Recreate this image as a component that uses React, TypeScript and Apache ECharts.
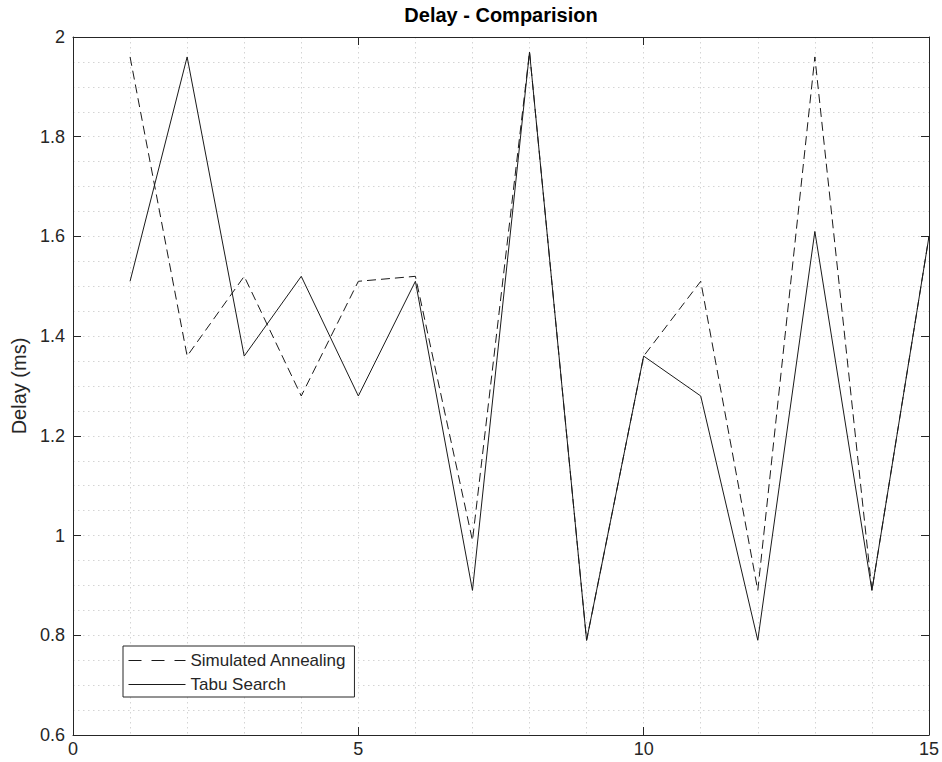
import React, { useEffect, useRef } from "react";
import * as echarts from "echarts";

const xValues = [1, 2, 3, 4, 5, 6, 7, 8, 9, 10, 11, 12, 13, 14, 15];
const saDelay = [1.96, 1.36, 1.52, 1.28, 1.51, 1.52, 0.99, 1.97, 0.79, 1.36, 1.51, 0.89, 1.96, 0.89, 1.6];
const tabuDelay = [1.51, 1.96, 1.36, 1.52, 1.28, 1.51, 0.89, 1.97, 0.79, 1.36, 1.28, 0.79, 1.61, 0.89, 1.6];
const seriesNames = ["Simulated Annealing", "Tabu Search"];
const titleText = "Delay - Comparision";
const yAxisName = "Delay (ms)";

const FONT = "'Liberation Sans', Arial, Helvetica, sans-serif";
const AXIS_COLOR = "#262626";
const LINE_COLOR = "#1a1a1a";
const GRID_COLOR = "#d4d4d4";

export default function App() {
  const ref = useRef<HTMLDivElement>(null);
  useEffect(() => {
    if (!ref.current) return;
    const chart = echarts.init(ref.current, undefined, { renderer: "svg" });
    const gridLine = { show: true, lineStyle: { color: GRID_COLOR, type: [1.5, 3.5], width: 1 } };
    const baseX = {
      type: "value",
      min: 0,
      max: 15,
      interval: 5,
      axisLine: { show: true, onZero: false, lineStyle: { color: AXIS_COLOR, width: 1 } },
      axisTick: { show: true, inside: true, length: 8, lineStyle: { color: AXIS_COLOR } },
      minorTick: { show: false, splitNumber: 5 },
    };
    const baseY = {
      type: "value",
      min: 0.6,
      max: 2,
      interval: 0.2,
      axisLine: { show: true, onZero: false, lineStyle: { color: AXIS_COLOR, width: 1 } },
      axisTick: { show: true, inside: true, length: 8, lineStyle: { color: AXIS_COLOR } },
      minorTick: { show: false, splitNumber: 4 },
    };
    chart.setOption({
      animation: false,
      backgroundColor: "#ffffff",
      title: {
        text: titleText,
        left: 501,
        top: 5,
        textAlign: "center",
        padding: 0,
        textStyle: { fontFamily: FONT, fontSize: 20, fontWeight: "bold", color: "#000" },
      },
      grid: { left: 73, right: 13, top: 37, bottom: 27, containLabel: false },
      legend: {
        data: [
          { name: seriesNames[0], lineStyle: { type: [13, 10], color: LINE_COLOR, width: 1 } },
          { name: seriesNames[1], lineStyle: { type: "solid", color: LINE_COLOR, width: 1 } },
        ],
        orient: "vertical",
        left: 123,
        top: 646,
        itemWidth: 57,
        itemHeight: 16,
        itemGap: 7,
        padding: [6, 8, 4, 5],
        borderColor: AXIS_COLOR,
        borderWidth: 1,
        backgroundColor: "#ffffff",
        itemStyle: { color: "rgba(0,0,0,0)", borderColor: "rgba(0,0,0,0)", borderWidth: 0, opacity: 0 },
        textStyle: { fontFamily: FONT, fontSize: 17, color: AXIS_COLOR },
      },
      xAxis: [
        {
          ...baseX,
          position: "bottom",
          axisLabel: { show: true, margin: 5, fontFamily: FONT, fontSize: 18, color: AXIS_COLOR },
          splitLine: gridLine,
          minorSplitLine: gridLine,
        },
        {
          ...baseX,
          position: "top",
          axisLabel: { show: false },
          splitLine: { show: false },
        },
      ],
      yAxis: [
        {
          ...baseY,
          position: "left",
          name: yAxisName,
          nameLocation: "middle",
          nameGap: 41,
          nameTextStyle: { fontFamily: FONT, fontSize: 20, color: AXIS_COLOR },
          axisLabel: { show: true, margin: 8, fontFamily: FONT, fontSize: 18, color: AXIS_COLOR },
          splitLine: gridLine,
          minorSplitLine: gridLine,
        },
        {
          ...baseY,
          position: "right",
          axisLabel: { show: false },
          splitLine: { show: false },
        },
      ],
      series: [
        {
          name: seriesNames[0],
          type: "line",
          data: xValues.map((x, i) => [x, saDelay[i]]),
          symbol: "none",
          showSymbol: false,
          lineStyle: { color: LINE_COLOR, width: 1, type: [9, 5] },
          itemStyle: { color: LINE_COLOR },
          z: 3,
        },
        {
          name: seriesNames[1],
          type: "line",
          data: xValues.map((x, i) => [x, tabuDelay[i]]),
          symbol: "none",
          showSymbol: false,
          lineStyle: { color: LINE_COLOR, width: 1, type: "solid" },
          itemStyle: { color: LINE_COLOR },
          z: 3,
        },
      ],
    });
    return () => chart.dispose();
  }, []);
  return <div ref={ref} style={{ width: 942, height: 762, position: "absolute", left: 0, top: 0 }} />;
}
